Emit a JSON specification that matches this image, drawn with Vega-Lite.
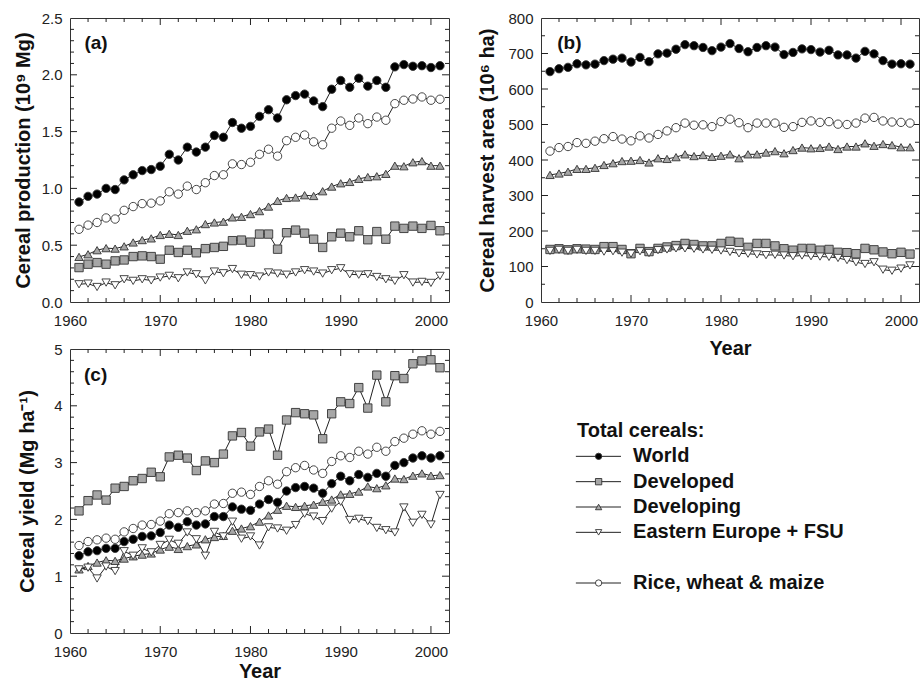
{
  "$schema": "https://vega.github.io/schema/vega-lite/v6.json",
  "padding": {"left": 12, "top": 10, "right": 0, "bottom": 0},
  "background": "white",
  "config": {
    "font": "Liberation Sans",
    "view": {"stroke": "#333", "strokeWidth": 1},
    "axis": {"domain": false, "grid": false, "ticks": true, "tickSize": 0, "labelFont": "Liberation Sans", "labelFontSize": 15, "labelColor": "#222", "labelOverlap": false, "labelFlush": false, "titleFont": "Liberation Sans", "titleFontSize": 20, "titleFontWeight": "bold", "titleColor": "#111"},
    "text": {"font": "Liberation Sans"}
  },
  "data": {"values": [
    {"Year":1961,"Series":"World","Production":0.88,"Area":649,"Yield":1.36},
    {"Year":1962,"Series":"World","Production":0.93,"Area":657,"Yield":1.43},
    {"Year":1963,"Series":"World","Production":0.95,"Area":661,"Yield":1.45},
    {"Year":1964,"Series":"World","Production":1.00,"Area":671,"Yield":1.49},
    {"Year":1965,"Series":"World","Production":0.99,"Area":668,"Yield":1.49},
    {"Year":1966,"Series":"World","Production":1.075,"Area":670,"Yield":1.61},
    {"Year":1967,"Series":"World","Production":1.12,"Area":680,"Yield":1.65},
    {"Year":1968,"Series":"World","Production":1.157,"Area":684,"Yield":1.70},
    {"Year":1969,"Series":"World","Production":1.166,"Area":687,"Yield":1.71},
    {"Year":1970,"Series":"World","Production":1.195,"Area":676,"Yield":1.77},
    {"Year":1971,"Series":"World","Production":1.30,"Area":689,"Yield":1.90},
    {"Year":1972,"Series":"World","Production":1.25,"Area":677,"Yield":1.86},
    {"Year":1973,"Series":"World","Production":1.363,"Area":699,"Yield":1.96},
    {"Year":1974,"Series":"World","Production":1.32,"Area":701,"Yield":1.90},
    {"Year":1975,"Series":"World","Production":1.363,"Area":712,"Yield":1.92},
    {"Year":1976,"Series":"World","Production":1.466,"Area":725,"Yield":2.05},
    {"Year":1977,"Series":"World","Production":1.45,"Area":722,"Yield":2.05},
    {"Year":1978,"Series":"World","Production":1.58,"Area":717,"Yield":2.22},
    {"Year":1979,"Series":"World","Production":1.53,"Area":708,"Yield":2.18},
    {"Year":1980,"Series":"World","Production":1.546,"Area":718,"Yield":2.16},
    {"Year":1981,"Series":"World","Production":1.634,"Area":728,"Yield":2.27},
    {"Year":1982,"Series":"World","Production":1.693,"Area":714,"Yield":2.35},
    {"Year":1983,"Series":"World","Production":1.62,"Area":705,"Yield":2.30},
    {"Year":1984,"Series":"World","Production":1.78,"Area":717,"Yield":2.50},
    {"Year":1985,"Series":"World","Production":1.817,"Area":722,"Yield":2.56},
    {"Year":1986,"Series":"World","Production":1.83,"Area":718,"Yield":2.58},
    {"Year":1987,"Series":"World","Production":1.77,"Area":697,"Yield":2.55},
    {"Year":1988,"Series":"World","Production":1.72,"Area":703,"Yield":2.46},
    {"Year":1989,"Series":"World","Production":1.873,"Area":713,"Yield":2.63},
    {"Year":1990,"Series":"World","Production":1.95,"Area":711,"Yield":2.76},
    {"Year":1991,"Series":"World","Production":1.89,"Area":704,"Yield":2.68},
    {"Year":1992,"Series":"World","Production":1.97,"Area":709,"Yield":2.79},
    {"Year":1993,"Series":"World","Production":1.90,"Area":696,"Yield":2.74},
    {"Year":1994,"Series":"World","Production":1.95,"Area":696,"Yield":2.81},
    {"Year":1995,"Series":"World","Production":1.89,"Area":687,"Yield":2.76},
    {"Year":1996,"Series":"World","Production":2.07,"Area":706,"Yield":2.95},
    {"Year":1997,"Series":"World","Production":2.09,"Area":699,"Yield":3.00},
    {"Year":1998,"Series":"World","Production":2.075,"Area":680,"Yield":3.08},
    {"Year":1999,"Series":"World","Production":2.08,"Area":670,"Yield":3.12},
    {"Year":2000,"Series":"World","Production":2.064,"Area":671,"Yield":3.08},
    {"Year":2001,"Series":"World","Production":2.08,"Area":670,"Yield":3.12},
    {"Year":1961,"Series":"Developed","Production":0.303,"Area":148,"Yield":2.15},
    {"Year":1962,"Series":"Developed","Production":0.333,"Area":150,"Yield":2.33},
    {"Year":1963,"Series":"Developed","Production":0.347,"Area":147,"Yield":2.43},
    {"Year":1964,"Series":"Developed","Production":0.333,"Area":150,"Yield":2.34},
    {"Year":1965,"Series":"Developed","Production":0.362,"Area":149,"Yield":2.55},
    {"Year":1966,"Series":"Developed","Production":0.37,"Area":148,"Yield":2.58},
    {"Year":1967,"Series":"Developed","Production":0.40,"Area":156,"Yield":2.68},
    {"Year":1968,"Series":"Developed","Production":0.406,"Area":156,"Yield":2.72},
    {"Year":1969,"Series":"Developed","Production":0.40,"Area":148,"Yield":2.83},
    {"Year":1970,"Series":"Developed","Production":0.377,"Area":136,"Yield":2.75},
    {"Year":1971,"Series":"Developed","Production":0.456,"Area":151,"Yield":3.10},
    {"Year":1972,"Series":"Developed","Production":0.436,"Area":142,"Yield":3.13},
    {"Year":1973,"Series":"Developed","Production":0.456,"Area":151,"Yield":3.08},
    {"Year":1974,"Series":"Developed","Production":0.433,"Area":155,"Yield":2.86},
    {"Year":1975,"Series":"Developed","Production":0.47,"Area":159,"Yield":3.03},
    {"Year":1976,"Series":"Developed","Production":0.48,"Area":165,"Yield":3.00},
    {"Year":1977,"Series":"Developed","Production":0.49,"Area":162,"Yield":3.15},
    {"Year":1978,"Series":"Developed","Production":0.54,"Area":158,"Yield":3.47},
    {"Year":1979,"Series":"Developed","Production":0.545,"Area":158,"Yield":3.53},
    {"Year":1980,"Series":"Developed","Production":0.527,"Area":165,"Yield":3.29},
    {"Year":1981,"Series":"Developed","Production":0.598,"Area":171,"Yield":3.54},
    {"Year":1982,"Series":"Developed","Production":0.598,"Area":168,"Yield":3.59},
    {"Year":1983,"Series":"Developed","Production":0.465,"Area":154,"Yield":3.13},
    {"Year":1984,"Series":"Developed","Production":0.61,"Area":165,"Yield":3.75},
    {"Year":1985,"Series":"Developed","Production":0.633,"Area":165,"Yield":3.88},
    {"Year":1986,"Series":"Developed","Production":0.606,"Area":158,"Yield":3.86},
    {"Year":1987,"Series":"Developed","Production":0.553,"Area":150,"Yield":3.84},
    {"Year":1988,"Series":"Developed","Production":0.48,"Area":146,"Yield":3.42},
    {"Year":1989,"Series":"Developed","Production":0.574,"Area":151,"Yield":3.86},
    {"Year":1990,"Series":"Developed","Production":0.606,"Area":151,"Yield":4.07},
    {"Year":1991,"Series":"Developed","Production":0.574,"Area":146,"Yield":4.04},
    {"Year":1992,"Series":"Developed","Production":0.627,"Area":148,"Yield":4.32},
    {"Year":1993,"Series":"Developed","Production":0.548,"Area":140,"Yield":3.96},
    {"Year":1994,"Series":"Developed","Production":0.62,"Area":139,"Yield":4.54},
    {"Year":1995,"Series":"Developed","Production":0.553,"Area":136,"Yield":4.07},
    {"Year":1996,"Series":"Developed","Production":0.668,"Area":151,"Yield":4.53},
    {"Year":1997,"Series":"Developed","Production":0.648,"Area":147,"Yield":4.48},
    {"Year":1998,"Series":"Developed","Production":0.668,"Area":141,"Yield":4.74},
    {"Year":1999,"Series":"Developed","Production":0.648,"Area":136,"Yield":4.79},
    {"Year":2000,"Series":"Developed","Production":0.674,"Area":140,"Yield":4.81},
    {"Year":2001,"Series":"Developed","Production":0.627,"Area":135,"Yield":4.67},
    {"Year":1961,"Series":"Developing","Production":0.397,"Area":358,"Yield":1.12},
    {"Year":1962,"Series":"Developing","Production":0.42,"Area":362,"Yield":1.18},
    {"Year":1963,"Series":"Developing","Production":0.456,"Area":367,"Yield":1.24},
    {"Year":1964,"Series":"Developing","Production":0.474,"Area":375,"Yield":1.28},
    {"Year":1965,"Series":"Developing","Production":0.47,"Area":375,"Yield":1.27},
    {"Year":1966,"Series":"Developing","Production":0.49,"Area":378,"Yield":1.31},
    {"Year":1967,"Series":"Developing","Production":0.524,"Area":386,"Yield":1.35},
    {"Year":1968,"Series":"Developing","Production":0.545,"Area":391,"Yield":1.38},
    {"Year":1969,"Series":"Developing","Production":0.56,"Area":397,"Yield":1.40},
    {"Year":1970,"Series":"Developing","Production":0.59,"Area":398,"Yield":1.47},
    {"Year":1971,"Series":"Developing","Production":0.60,"Area":400,"Yield":1.52},
    {"Year":1972,"Series":"Developing","Production":0.59,"Area":393,"Yield":1.48},
    {"Year":1973,"Series":"Developing","Production":0.627,"Area":405,"Yield":1.53},
    {"Year":1974,"Series":"Developing","Production":0.64,"Area":403,"Yield":1.56},
    {"Year":1975,"Series":"Developing","Production":0.686,"Area":408,"Yield":1.65},
    {"Year":1976,"Series":"Developing","Production":0.70,"Area":416,"Yield":1.69},
    {"Year":1977,"Series":"Developing","Production":0.707,"Area":411,"Yield":1.71},
    {"Year":1978,"Series":"Developing","Production":0.745,"Area":414,"Yield":1.80},
    {"Year":1979,"Series":"Developing","Production":0.75,"Area":409,"Yield":1.84},
    {"Year":1980,"Series":"Developing","Production":0.774,"Area":412,"Yield":1.88},
    {"Year":1981,"Series":"Developing","Production":0.80,"Area":416,"Yield":1.96},
    {"Year":1982,"Series":"Developing","Production":0.84,"Area":405,"Yield":2.07},
    {"Year":1983,"Series":"Developing","Production":0.89,"Area":416,"Yield":2.17},
    {"Year":1984,"Series":"Developing","Production":0.916,"Area":416,"Yield":2.24},
    {"Year":1985,"Series":"Developing","Production":0.92,"Area":421,"Yield":2.22},
    {"Year":1986,"Series":"Developing","Production":0.94,"Area":425,"Yield":2.24},
    {"Year":1987,"Series":"Developing","Production":0.933,"Area":419,"Yield":2.26},
    {"Year":1988,"Series":"Developing","Production":0.975,"Area":428,"Yield":2.31},
    {"Year":1989,"Series":"Developing","Production":1.016,"Area":435,"Yield":2.35},
    {"Year":1990,"Series":"Developing","Production":1.045,"Area":433,"Yield":2.44},
    {"Year":1991,"Series":"Developing","Production":1.057,"Area":434,"Yield":2.45},
    {"Year":1992,"Series":"Developing","Production":1.084,"Area":438,"Yield":2.49},
    {"Year":1993,"Series":"Developing","Production":1.10,"Area":431,"Yield":2.58},
    {"Year":1994,"Series":"Developing","Production":1.107,"Area":438,"Yield":2.55},
    {"Year":1995,"Series":"Developing","Production":1.128,"Area":438,"Yield":2.60},
    {"Year":1996,"Series":"Developing","Production":1.20,"Area":447,"Yield":2.72},
    {"Year":1997,"Series":"Developing","Production":1.195,"Area":440,"Yield":2.71},
    {"Year":1998,"Series":"Developing","Production":1.23,"Area":445,"Yield":2.77},
    {"Year":1999,"Series":"Developing","Production":1.24,"Area":442,"Yield":2.81},
    {"Year":2000,"Series":"Developing","Production":1.20,"Area":436,"Yield":2.77},
    {"Year":2001,"Series":"Developing","Production":1.20,"Area":436,"Yield":2.78},
    {"Year":1961,"Series":"Eastern Europe + FSU","Production":0.156,"Area":144,"Yield":1.12},
    {"Year":1962,"Series":"Eastern Europe + FSU","Production":0.162,"Area":147,"Yield":1.15},
    {"Year":1963,"Series":"Eastern Europe + FSU","Production":0.132,"Area":144,"Yield":0.96},
    {"Year":1964,"Series":"Eastern Europe + FSU","Production":0.171,"Area":147,"Yield":1.17},
    {"Year":1965,"Series":"Eastern Europe + FSU","Production":0.147,"Area":144,"Yield":1.09},
    {"Year":1966,"Series":"Eastern Europe + FSU","Production":0.20,"Area":144,"Yield":1.44},
    {"Year":1967,"Series":"Eastern Europe + FSU","Production":0.186,"Area":142,"Yield":1.36},
    {"Year":1968,"Series":"Eastern Europe + FSU","Production":0.20,"Area":143,"Yield":1.49},
    {"Year":1969,"Series":"Eastern Europe + FSU","Production":0.19,"Area":139,"Yield":1.42},
    {"Year":1970,"Series":"Eastern Europe + FSU","Production":0.215,"Area":136,"Yield":1.55},
    {"Year":1971,"Series":"Eastern Europe + FSU","Production":0.23,"Area":143,"Yield":1.64},
    {"Year":1972,"Series":"Eastern Europe + FSU","Production":0.209,"Area":138,"Yield":1.57},
    {"Year":1973,"Series":"Eastern Europe + FSU","Production":0.26,"Area":146,"Yield":1.77},
    {"Year":1974,"Series":"Eastern Europe + FSU","Production":0.244,"Area":148,"Yield":1.65},
    {"Year":1975,"Series":"Eastern Europe + FSU","Production":0.19,"Area":151,"Yield":1.36},
    {"Year":1976,"Series":"Eastern Europe + FSU","Production":0.268,"Area":151,"Yield":1.78},
    {"Year":1977,"Series":"Eastern Europe + FSU","Production":0.253,"Area":150,"Yield":1.70},
    {"Year":1978,"Series":"Eastern Europe + FSU","Production":0.29,"Area":148,"Yield":1.96},
    {"Year":1979,"Series":"Eastern Europe + FSU","Production":0.24,"Area":147,"Yield":1.66},
    {"Year":1980,"Series":"Eastern Europe + FSU","Production":0.236,"Area":145,"Yield":1.70},
    {"Year":1981,"Series":"Eastern Europe + FSU","Production":0.224,"Area":141,"Yield":1.54},
    {"Year":1982,"Series":"Eastern Europe + FSU","Production":0.26,"Area":137,"Yield":1.86},
    {"Year":1983,"Series":"Eastern Europe + FSU","Production":0.25,"Area":136,"Yield":1.84},
    {"Year":1984,"Series":"Eastern Europe + FSU","Production":0.24,"Area":134,"Yield":1.80},
    {"Year":1985,"Series":"Eastern Europe + FSU","Production":0.26,"Area":132,"Yield":1.90},
    {"Year":1986,"Series":"Eastern Europe + FSU","Production":0.28,"Area":133,"Yield":2.10},
    {"Year":1987,"Series":"Eastern Europe + FSU","Production":0.268,"Area":131,"Yield":2.05},
    {"Year":1988,"Series":"Eastern Europe + FSU","Production":0.25,"Area":129,"Yield":1.97},
    {"Year":1989,"Series":"Eastern Europe + FSU","Production":0.28,"Area":131,"Yield":2.19},
    {"Year":1990,"Series":"Eastern Europe + FSU","Production":0.297,"Area":129,"Yield":2.31},
    {"Year":1991,"Series":"Eastern Europe + FSU","Production":0.244,"Area":128,"Yield":1.99},
    {"Year":1992,"Series":"Eastern Europe + FSU","Production":0.24,"Area":127,"Yield":2.01},
    {"Year":1993,"Series":"Eastern Europe + FSU","Production":0.244,"Area":124,"Yield":1.97},
    {"Year":1994,"Series":"Eastern Europe + FSU","Production":0.22,"Area":118,"Yield":1.85},
    {"Year":1995,"Series":"Eastern Europe + FSU","Production":0.20,"Area":112,"Yield":1.81},
    {"Year":1996,"Series":"Eastern Europe + FSU","Production":0.186,"Area":107,"Yield":1.77},
    {"Year":1997,"Series":"Eastern Europe + FSU","Production":0.236,"Area":112,"Yield":2.21},
    {"Year":1998,"Series":"Eastern Europe + FSU","Production":0.171,"Area":91,"Yield":1.94},
    {"Year":1999,"Series":"Eastern Europe + FSU","Production":0.177,"Area":88,"Yield":2.08},
    {"Year":2000,"Series":"Eastern Europe + FSU","Production":0.168,"Area":94,"Yield":1.91},
    {"Year":2001,"Series":"Eastern Europe + FSU","Production":0.23,"Area":103,"Yield":2.43},
    {"Year":1961,"Series":"Rice, wheat & maize","Production":0.64,"Area":425,"Yield":1.54},
    {"Year":1962,"Series":"Rice, wheat & maize","Production":0.677,"Area":435,"Yield":1.61},
    {"Year":1963,"Series":"Rice, wheat & maize","Production":0.70,"Area":438,"Yield":1.64},
    {"Year":1964,"Series":"Rice, wheat & maize","Production":0.74,"Area":449,"Yield":1.67},
    {"Year":1965,"Series":"Rice, wheat & maize","Production":0.73,"Area":447,"Yield":1.65},
    {"Year":1966,"Series":"Rice, wheat & maize","Production":0.807,"Area":453,"Yield":1.78},
    {"Year":1967,"Series":"Rice, wheat & maize","Production":0.84,"Area":460,"Yield":1.84},
    {"Year":1968,"Series":"Rice, wheat & maize","Production":0.866,"Area":466,"Yield":1.90},
    {"Year":1969,"Series":"Rice, wheat & maize","Production":0.87,"Area":459,"Yield":1.91},
    {"Year":1970,"Series":"Rice, wheat & maize","Production":0.89,"Area":454,"Yield":1.97},
    {"Year":1971,"Series":"Rice, wheat & maize","Production":0.97,"Area":468,"Yield":2.10},
    {"Year":1972,"Series":"Rice, wheat & maize","Production":0.95,"Area":462,"Yield":2.12},
    {"Year":1973,"Series":"Rice, wheat & maize","Production":1.02,"Area":472,"Yield":2.15},
    {"Year":1974,"Series":"Rice, wheat & maize","Production":0.99,"Area":482,"Yield":2.12},
    {"Year":1975,"Series":"Rice, wheat & maize","Production":1.05,"Area":491,"Yield":2.15},
    {"Year":1976,"Series":"Rice, wheat & maize","Production":1.113,"Area":504,"Yield":2.27},
    {"Year":1977,"Series":"Rice, wheat & maize","Production":1.12,"Area":498,"Yield":2.28},
    {"Year":1978,"Series":"Rice, wheat & maize","Production":1.216,"Area":499,"Yield":2.46},
    {"Year":1979,"Series":"Rice, wheat & maize","Production":1.21,"Area":494,"Yield":2.48},
    {"Year":1980,"Series":"Rice, wheat & maize","Production":1.23,"Area":508,"Yield":2.44},
    {"Year":1981,"Series":"Rice, wheat & maize","Production":1.30,"Area":515,"Yield":2.58},
    {"Year":1982,"Series":"Rice, wheat & maize","Production":1.345,"Area":505,"Yield":2.68},
    {"Year":1983,"Series":"Rice, wheat & maize","Production":1.284,"Area":491,"Yield":2.62},
    {"Year":1984,"Series":"Rice, wheat & maize","Production":1.42,"Area":504,"Yield":2.84},
    {"Year":1985,"Series":"Rice, wheat & maize","Production":1.45,"Area":504,"Yield":2.91},
    {"Year":1986,"Series":"Rice, wheat & maize","Production":1.47,"Area":504,"Yield":2.95},
    {"Year":1987,"Series":"Rice, wheat & maize","Production":1.41,"Area":492,"Yield":2.87},
    {"Year":1988,"Series":"Rice, wheat & maize","Production":1.384,"Area":494,"Yield":2.81},
    {"Year":1989,"Series":"Rice, wheat & maize","Production":1.53,"Area":506,"Yield":3.02},
    {"Year":1990,"Series":"Rice, wheat & maize","Production":1.593,"Area":510,"Yield":3.12},
    {"Year":1991,"Series":"Rice, wheat & maize","Production":1.555,"Area":506,"Yield":3.09},
    {"Year":1992,"Series":"Rice, wheat & maize","Production":1.62,"Area":508,"Yield":3.20},
    {"Year":1993,"Series":"Rice, wheat & maize","Production":1.57,"Area":501,"Yield":3.15},
    {"Year":1994,"Series":"Rice, wheat & maize","Production":1.628,"Area":500,"Yield":3.27},
    {"Year":1995,"Series":"Rice, wheat & maize","Production":1.60,"Area":504,"Yield":3.20},
    {"Year":1996,"Series":"Rice, wheat & maize","Production":1.746,"Area":518,"Yield":3.37},
    {"Year":1997,"Series":"Rice, wheat & maize","Production":1.776,"Area":520,"Yield":3.43},
    {"Year":1998,"Series":"Rice, wheat & maize","Production":1.787,"Area":510,"Yield":3.50},
    {"Year":1999,"Series":"Rice, wheat & maize","Production":1.805,"Area":507,"Yield":3.56},
    {"Year":2000,"Series":"Rice, wheat & maize","Production":1.776,"Area":506,"Yield":3.50},
    {"Year":2001,"Series":"Rice, wheat & maize","Production":1.785,"Area":504,"Yield":3.55}
  ]},
  "bounds": "full",
  "spacing": 27,
  "hconcat": [
    {
      "bounds": "flush",
      "spacing": 47,
      "vconcat": [
        {
          "width": 379, "height": 284,
          "layer": [
            {"data": {"values": [{"Year":1970},{"Year":1980},{"Year":1990},{"Year":2000}]},
             "mark": {"type": "rule", "color": "#222", "strokeWidth": 1, "strokeDash": [7, 270]},
             "encoding": {"x": {"field": "Year", "type": "quantitative", "axis": null}, "y": {"datum": 0, "type": "quantitative", "axis": null}, "y2": {"datum": 2.5}}},
            {"data": {"values": [{"Year":1962},{"Year":1964},{"Year":1966},{"Year":1968},{"Year":1972},{"Year":1974},{"Year":1976},{"Year":1978},{"Year":1982},{"Year":1984},{"Year":1986},{"Year":1988},{"Year":1992},{"Year":1994},{"Year":1996},{"Year":1998}]},
             "mark": {"type": "rule", "color": "#222", "strokeWidth": 1, "strokeDash": [4, 276]},
             "encoding": {"x": {"field": "Year", "type": "quantitative", "axis": null}, "y": {"datum": 0, "type": "quantitative", "axis": null}, "y2": {"datum": 2.5}}},
            {"data": {"values": [{"Production":0.5},{"Production":1.0},{"Production":1.5},{"Production":2.0}]},
             "mark": {"type": "rule", "color": "#222", "strokeWidth": 1, "strokeDash": [7, 365]},
             "encoding": {"y": {"field": "Production", "type": "quantitative", "axis": null}, "x": {"datum": 1960, "type": "quantitative", "axis": null}, "x2": {"datum": 2002}}},
            {"data": {"values": [{"Production":0.1},{"Production":0.2},{"Production":0.3},{"Production":0.4},{"Production":0.6},{"Production":0.7},{"Production":0.8},{"Production":0.9},{"Production":1.1},{"Production":1.2},{"Production":1.3},{"Production":1.4},{"Production":1.6},{"Production":1.7},{"Production":1.8},{"Production":1.9},{"Production":2.1},{"Production":2.2},{"Production":2.3},{"Production":2.4}]},
             "mark": {"type": "rule", "color": "#222", "strokeWidth": 1, "strokeDash": [4, 371]},
             "encoding": {"y": {"field": "Production", "type": "quantitative", "axis": null}, "x": {"datum": 1960, "type": "quantitative", "axis": null}, "x2": {"datum": 2002}}},
            {"mark": {"type": "line", "color": "#222", "strokeWidth": 1},
             "encoding": {
               "x": {"field": "Year", "type": "quantitative", "scale": {"domain": [1960, 2002], "nice": false, "zero": false},
                     "axis": {"orient": "bottom", "title": null, "format": "d", "values": [1960,1970,1980,1990,2000], "labelPadding": 11}},
               "y": {"field": "Production", "type": "quantitative", "scale": {"domain": [0, 2.5], "nice": false},
                     "axis": {"orient": "left", "title": "Cereal production (10⁹ Mg)", "format": ".1f", "values": [0,0.5,1,1.5,2,2.5], "labelPadding": 8, "titlePadding": 8}},
               "detail": {"field": "Series"}
             }},
            {"mark": {"type": "point", "filled": true, "stroke": "#333", "strokeWidth": 0.9, "size": 70, "opacity": 1},
             "encoding": {
               "x": {"field": "Year", "type": "quantitative", "axis": null},
               "y": {"field": "Production", "type": "quantitative", "axis": null},
               "shape": {"field": "Series", "legend": null, "scale": {"domain": ["World","Developed","Developing","Eastern Europe + FSU","Rice, wheat & maize"], "range": ["circle","square","triangle-up","triangle-down","circle"]}},
               "fill": {"field": "Series", "legend": null, "scale": {"domain": ["World","Developed","Developing","Eastern Europe + FSU","Rice, wheat & maize"], "range": ["#000000","#a6a6a6","#a6a6a6","#ffffff","#ffffff"]}}
             }},
            {"data": {"values": [{"label": "(a)"}]},
             "mark": {"type": "text", "align": "left", "baseline": "middle", "fontSize": 19, "fontWeight": "bold", "color": "#111"},
             "encoding": {
               "x": {"datum": 1961.6, "type": "quantitative", "axis": null},
               "y": {"datum": 2.28, "type": "quantitative", "axis": null},
               "text": {"field": "label"}}}
          ],
          "resolve": {"axis": {"x": "independent", "y": "independent"}}
        },
        {
          "width": 379, "height": 284,
          "layer": [
            {"data": {"values": [{"Year":1970},{"Year":1980},{"Year":1990},{"Year":2000}]},
             "mark": {"type": "rule", "color": "#222", "strokeWidth": 1, "strokeDash": [7, 270]},
             "encoding": {"x": {"field": "Year", "type": "quantitative", "axis": null}, "y": {"datum": 0, "type": "quantitative", "axis": null}, "y2": {"datum": 5}}},
            {"data": {"values": [{"Year":1962},{"Year":1964},{"Year":1966},{"Year":1968},{"Year":1972},{"Year":1974},{"Year":1976},{"Year":1978},{"Year":1982},{"Year":1984},{"Year":1986},{"Year":1988},{"Year":1992},{"Year":1994},{"Year":1996},{"Year":1998}]},
             "mark": {"type": "rule", "color": "#222", "strokeWidth": 1, "strokeDash": [4, 276]},
             "encoding": {"x": {"field": "Year", "type": "quantitative", "axis": null}, "y": {"datum": 0, "type": "quantitative", "axis": null}, "y2": {"datum": 5}}},
            {"data": {"values": [{"Yield":1},{"Yield":2},{"Yield":3},{"Yield":4}]},
             "mark": {"type": "rule", "color": "#222", "strokeWidth": 1, "strokeDash": [7, 365]},
             "encoding": {"y": {"field": "Yield", "type": "quantitative", "axis": null}, "x": {"datum": 1960, "type": "quantitative", "axis": null}, "x2": {"datum": 2002}}},
            {"data": {"values": [{"Yield":0.2},{"Yield":0.4},{"Yield":0.6},{"Yield":0.8},{"Yield":1.2},{"Yield":1.4},{"Yield":1.6},{"Yield":1.8},{"Yield":2.2},{"Yield":2.4},{"Yield":2.6},{"Yield":2.8},{"Yield":3.2},{"Yield":3.4},{"Yield":3.6},{"Yield":3.8},{"Yield":4.2},{"Yield":4.4},{"Yield":4.6},{"Yield":4.8}]},
             "mark": {"type": "rule", "color": "#222", "strokeWidth": 1, "strokeDash": [4, 371]},
             "encoding": {"y": {"field": "Yield", "type": "quantitative", "axis": null}, "x": {"datum": 1960, "type": "quantitative", "axis": null}, "x2": {"datum": 2002}}},
            {"mark": {"type": "line", "color": "#222", "strokeWidth": 1},
             "encoding": {
               "x": {"field": "Year", "type": "quantitative", "scale": {"domain": [1960, 2002], "nice": false, "zero": false},
                     "axis": {"orient": "bottom", "title": "Year", "format": "d", "values": [1960,1970,1980,1990,2000], "labelPadding": 11, "titlePadding": 2}},
               "y": {"field": "Yield", "type": "quantitative", "scale": {"domain": [0, 5], "nice": false},
                     "axis": {"orient": "left", "title": "Cereal yield (Mg ha⁻¹)", "format": "d", "values": [0,1,2,3,4,5], "labelPadding": 8, "titlePadding": 16}},
               "detail": {"field": "Series"}
             }},
            {"mark": {"type": "point", "filled": true, "stroke": "#333", "strokeWidth": 0.9, "size": 70, "opacity": 1},
             "encoding": {
               "x": {"field": "Year", "type": "quantitative", "axis": null},
               "y": {"field": "Yield", "type": "quantitative", "axis": null},
               "shape": {"field": "Series", "legend": null, "scale": {"domain": ["World","Developed","Developing","Eastern Europe + FSU","Rice, wheat & maize"], "range": ["circle","square","triangle-up","triangle-down","circle"]}},
               "fill": {"field": "Series", "legend": null, "scale": {"domain": ["World","Developed","Developing","Eastern Europe + FSU","Rice, wheat & maize"], "range": ["#000000","#a6a6a6","#a6a6a6","#ffffff","#ffffff"]}}
             }},
            {"data": {"values": [{"label": "(c)"}]},
             "mark": {"type": "text", "align": "left", "baseline": "middle", "fontSize": 19, "fontWeight": "bold", "color": "#111"},
             "encoding": {
               "x": {"datum": 1961.55, "type": "quantitative", "axis": null},
               "y": {"datum": 4.54, "type": "quantitative", "axis": null},
               "text": {"field": "label"}}}
          ],
          "resolve": {"axis": {"x": "independent", "y": "independent"}}
        }
      ]
    },
    {
      "bounds": "flush",
      "spacing": 129,
      "vconcat": [
        {
          "width": 378, "height": 284,
          "layer": [
            {"data": {"values": [{"Year":1970},{"Year":1980},{"Year":1990},{"Year":2000}]},
             "mark": {"type": "rule", "color": "#222", "strokeWidth": 1, "strokeDash": [7, 270]},
             "encoding": {"x": {"field": "Year", "type": "quantitative", "axis": null}, "y": {"datum": 0, "type": "quantitative", "axis": null}, "y2": {"datum": 800}}},
            {"data": {"values": [{"Year":1962},{"Year":1964},{"Year":1966},{"Year":1968},{"Year":1972},{"Year":1974},{"Year":1976},{"Year":1978},{"Year":1982},{"Year":1984},{"Year":1986},{"Year":1988},{"Year":1992},{"Year":1994},{"Year":1996},{"Year":1998}]},
             "mark": {"type": "rule", "color": "#222", "strokeWidth": 1, "strokeDash": [4, 276]},
             "encoding": {"x": {"field": "Year", "type": "quantitative", "axis": null}, "y": {"datum": 0, "type": "quantitative", "axis": null}, "y2": {"datum": 800}}},
            {"data": {"values": [{"Area":100},{"Area":200},{"Area":300},{"Area":400},{"Area":500},{"Area":600},{"Area":700}]},
             "mark": {"type": "rule", "color": "#222", "strokeWidth": 1, "strokeDash": [7, 364]},
             "encoding": {"y": {"field": "Area", "type": "quantitative", "axis": null}, "x": {"datum": 1960, "type": "quantitative", "axis": null}, "x2": {"datum": 2002}}},
            {"data": {"values": [{"Area":50},{"Area":150},{"Area":250},{"Area":350},{"Area":450},{"Area":550},{"Area":650},{"Area":750}]},
             "mark": {"type": "rule", "color": "#222", "strokeWidth": 1, "strokeDash": [4, 370]},
             "encoding": {"y": {"field": "Area", "type": "quantitative", "axis": null}, "x": {"datum": 1960, "type": "quantitative", "axis": null}, "x2": {"datum": 2002}}},
            {"mark": {"type": "line", "color": "#222", "strokeWidth": 1},
             "encoding": {
               "x": {"field": "Year", "type": "quantitative", "scale": {"domain": [1960, 2002], "nice": false, "zero": false},
                     "axis": {"orient": "bottom", "title": "Year", "format": "d", "values": [1960,1970,1980,1990,2000], "labelPadding": 11, "titlePadding": 10}},
               "y": {"field": "Area", "type": "quantitative", "scale": {"domain": [0, 800], "nice": false},
                     "axis": {"orient": "left", "title": "Cereal harvest area (10⁶ ha)", "format": "d", "values": [0,100,200,300,400,500,600,700,800], "labelPadding": 8, "titlePadding": 10}},
               "detail": {"field": "Series"}
             }},
            {"mark": {"type": "point", "filled": true, "stroke": "#333", "strokeWidth": 0.9, "size": 70, "opacity": 1},
             "encoding": {
               "x": {"field": "Year", "type": "quantitative", "axis": null},
               "y": {"field": "Area", "type": "quantitative", "axis": null},
               "shape": {"field": "Series", "legend": null, "scale": {"domain": ["World","Developed","Developing","Eastern Europe + FSU","Rice, wheat & maize"], "range": ["circle","square","triangle-up","triangle-down","circle"]}},
               "fill": {"field": "Series", "legend": null, "scale": {"domain": ["World","Developed","Developing","Eastern Europe + FSU","Rice, wheat & maize"], "range": ["#000000","#a6a6a6","#a6a6a6","#ffffff","#ffffff"]}}
             }},
            {"data": {"values": [{"label": "(b)"}]},
             "mark": {"type": "text", "align": "left", "baseline": "middle", "fontSize": 19, "fontWeight": "bold", "color": "#111"},
             "encoding": {
               "x": {"datum": 1961.8, "type": "quantitative", "axis": null},
               "y": {"datum": 730, "type": "quantitative", "axis": null},
               "text": {"field": "label"}}}
          ],
          "resolve": {"axis": {"x": "independent", "y": "independent"}}
        },
        {
          "width": 379, "height": 152,
          "view": {"stroke": null},
          "data": {"values": [{"Series": "World"}, {"Series": "Developed"}, {"Series": "Developing"}, {"Series": "Eastern Europe + FSU"}, {"Series": "Rice, wheat & maize"}]},
          "encoding": {
            "y": {"field": "Series", "type": "nominal", "axis": null,
                  "scale": {"type": "point", "domain": ["Total cereals:","World","Developed","Developing","Eastern Europe + FSU"," ","Rice, wheat & maize"], "padding": 0}}
          },
          "layer": [
            {"mark": {"type": "rule", "color": "#222", "strokeWidth": 1},
             "encoding": {"x": {"datum": 0.92, "type": "quantitative", "scale": {"domain": [0, 10], "nice": false}, "axis": null}, "x2": {"datum": 2.11}}},
            {"mark": {"type": "point", "filled": true, "stroke": "#333", "strokeWidth": 0.9, "size": 40, "opacity": 1},
             "encoding": {
               "x": {"datum": 1.52, "type": "quantitative"},
               "shape": {"field": "Series", "legend": null, "scale": {"domain": ["World","Developed","Developing","Eastern Europe + FSU","Rice, wheat & maize"], "range": ["circle","square","triangle-up","triangle-down","circle"]}},
               "fill": {"field": "Series", "legend": null, "scale": {"domain": ["World","Developed","Developing","Eastern Europe + FSU","Rice, wheat & maize"], "range": ["#000000","#a6a6a6","#a6a6a6","#ffffff","#ffffff"]}}
             }},
            {"mark": {"type": "text", "align": "left", "baseline": "middle", "fontSize": 20, "fontWeight": "bold", "color": "#111"},
             "encoding": {"x": {"datum": 2.43, "type": "quantitative"}, "text": {"field": "Series"}}},
            {"data": {"values": [{"Series": "Total cereals:"}]},
             "mark": {"type": "text", "align": "left", "baseline": "middle", "fontSize": 20, "fontWeight": "bold", "color": "#111"},
             "encoding": {"x": {"datum": 0.95, "type": "quantitative"}, "text": {"field": "Series"}}}
          ]
        }
      ]
    }
  ]
}
